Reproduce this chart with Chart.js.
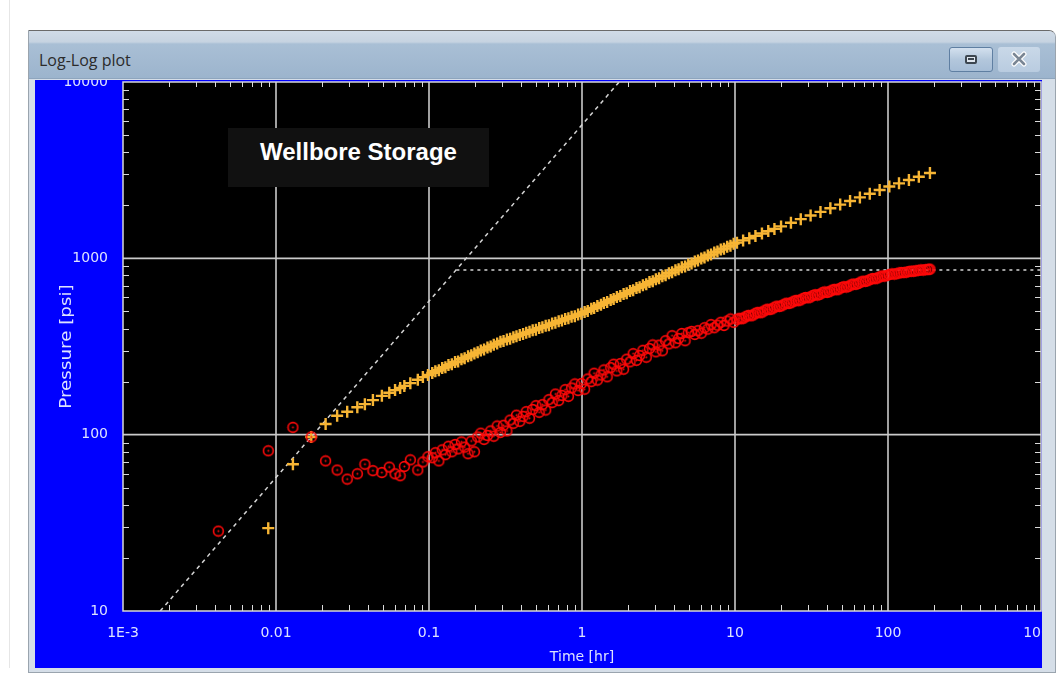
<!DOCTYPE html>
<html><head><meta charset="utf-8">
<script src="https://cdn.jsdelivr.net/npm/chart.js@4.4.1/dist/chart.umd.min.js"></script>
<style>
html,body{margin:0;padding:0;background:#fff;width:1061px;height:686px;overflow:hidden;position:relative;}
#edge{position:absolute;left:9px;top:0;width:1px;height:668px;background:#e6e6e6;}
#win{position:absolute;left:28px;top:30px;width:1028px;height:643px;box-sizing:border-box;background:#d5dee8;border:1px solid #9aa4ae;border-top-color:#6a6a6a;border-radius:0 7px 0 0;}
#titlebar{position:absolute;left:29px;top:31px;width:1026px;height:48px;box-sizing:border-box;background:linear-gradient(to bottom,#d0dbe7 0,#c6d3e1 11px,#a9bfd5 13px,#9cb4cd 100%);border-radius:0 6px 0 0;border-bottom:1px solid #8ea5bd;}
#wintitle{position:absolute;left:10px;top:19px;font:16px 'Open Sans',sans-serif;color:#2b2b2b;line-height:20px;white-space:nowrap;}
#btnRestore{position:absolute;left:920px;top:16px;width:44px;height:25px;box-sizing:border-box;border:1px solid #5f7fa2;border-radius:3px;background:linear-gradient(to bottom,#d3e0ee,#b3c7dc 50%,#a6bdd6);}
#btnRestore .ic{position:absolute;left:15px;top:7px;width:12px;height:9px;box-sizing:border-box;border:2px solid #3c4650;border-radius:2px;background:#dfe6ee;}
#btnRestore .ic:after{content:'';position:absolute;left:1px;top:1px;width:6px;height:2px;background:#3c4650;}
#btnClose{position:absolute;left:969px;top:16px;width:42px;height:25px;box-sizing:border-box;border-radius:3px;background:linear-gradient(to bottom,#c9d8e8,#b9cce0);}
#plotwrap{position:absolute;left:35px;top:80px;width:1007px;height:588px;overflow:hidden;background:#0000ff;}
#plotwrap canvas{position:absolute;left:0;top:-20px;}
#wbs{position:absolute;left:228px;top:128px;width:261px;height:59px;box-sizing:border-box;background:#111;color:#fff;font:bold 24px 'Liberation Sans',Arial,sans-serif;line-height:27px;padding-top:10px;text-align:center;white-space:nowrap;}
</style>
</head>
<body>
<div id="edge"></div>
<div id="win"></div>
<div id="titlebar"><span id="wintitle">Log-Log plot</span>
  <div id="btnRestore"><div class="ic"></div></div>
  <div id="btnClose"><svg width="42" height="25" viewBox="0 0 42 25"><path d="M16 7 L26 17 M26 7 L16 17" stroke="#ffffff" stroke-width="5" stroke-linecap="round"/><path d="M16 7 L26 17 M26 7 L16 17" stroke="#7a8694" stroke-width="2.6" stroke-linecap="round"/></svg></div>
</div>
<div id="plotwrap"><canvas id="c" width="1080" height="628" style="width:1080px;height:628px"></canvas></div>
<div id="wbs">Wellbore Storage</div>
<script>
// ---- data ----
const xTitle = 'Time [hr]';
const yTitle = 'Pressure [psi]';
const xTickValues = [0.001, 0.01, 0.1, 1, 10, 100, 1000];
const xTickLabels = ['1E-3', '0.01', '0.1', '1', '10', '100', '1000'];
const yTickValues = [10, 100, 1000, 10000];
const yTickLabels = ['10', '100', '1000', '10000'];

const sharedTime = [0.0042, 0.0089, 0.0129, 0.0170, 0.0211, 0.0251, 0.0292, 0.0340, 0.0381, 0.0430, 0.0492, 0.0550, 0.0600, 0.0648, 0.0690, 0.0755, 0.0845, 0.0912, 0.0985,
  0.105, 0.110, 0.116, 0.122, 0.128, 0.134, 0.141, 0.148, 0.155, 0.163,
  0.171, 0.180, 0.189, 0.198, 0.208, 0.218, 0.229, 0.241, 0.253, 0.265,
  0.279, 0.293, 0.307, 0.323, 0.339, 0.356, 0.373, 0.392, 0.412, 0.432,
  0.454, 0.476, 0.500, 0.525, 0.551, 0.579, 0.608, 0.638, 0.670, 0.704,
  0.739, 0.776, 0.815, 0.855, 0.898, 0.943, 0.990, 1.04, 1.09, 1.15,
  1.20, 1.26, 1.33, 1.39, 1.46, 1.54, 1.61, 1.69, 1.78, 1.87,
  1.96, 2.06, 2.16, 2.27, 2.38, 2.50, 2.63, 2.76, 2.90, 3.04,
  3.19, 3.35, 3.52, 3.70, 3.88, 4.08, 4.28, 4.49, 4.72, 4.95,
  5.20, 5.46, 5.73, 6.02, 6.32, 6.64, 6.97, 7.32, 7.68, 8.07,
  8.47, 8.89, 9.34, 9.80];

const deltaPShared = [null, 29.5, 68, 97, 115, 128, 135, 143, 149, 157, 166, 173, 179, 184, 189, 196, 205, 212, 218,
  224, 229, 232, 239, 241, 248, 251, 258, 260, 268,
  271, 278, 282, 289, 293, 300, 304, 312, 316, 324,
  329, 337, 340, 347, 350, 357, 361, 368, 372, 379,
  383, 391, 394, 402, 406, 414, 418, 427, 431, 440,
  444, 453, 458, 466, 470, 480, 485, 497, 503, 518,
  523, 537, 545, 558, 565, 580, 588, 603, 611, 628,
  634, 652, 660, 678, 686, 704, 713, 733, 742, 762,
  770, 792, 801, 823, 833, 856, 866, 889, 900, 924,
  936, 960, 972, 998, 1011, 1038, 1050, 1079, 1092, 1121,
  1135, 1165, 1180, 1211];
const deltaPLateTime = [10.3, 11.3, 12.4, 13.6, 15.0, 16.5, 18.1, 20.0, 23.2, 26.9, 31.2, 36.2, 42.0, 48.7, 56.5, 65.5, 76.0, 88.2, 102, 118, 137, 159, 188];
const deltaPLate = [1227, 1264, 1301, 1340, 1384, 1427, 1469, 1517, 1590, 1668, 1749, 1834, 1924, 2017, 2115, 2216, 2325, 2439, 2553, 2663, 2780, 2903, 3048];

const derivShared = [28.4, 81, 110, 97, 71, 63, 56, 60, 68, 62.5, 61, 65.5, 60, 58.5, 66, 72, 63, 70, 75,
  74, 79, 71, 82, 77, 86, 80, 88, 83, 91,
  85, 78, 92, 80, 97, 102, 94, 99, 105, 98,
  112, 103, 113, 105, 121, 116, 129, 119, 127, 135,
  124, 139, 146, 134, 148, 138, 158, 152, 170, 156,
  167, 180, 165, 184, 194, 178, 195, 181, 207, 200,
  223, 204, 218, 233, 213, 240, 251, 230, 253, 235,
  268, 259, 288, 264, 281, 301, 275, 308, 323, 295,
  322, 299, 341, 327, 364, 332, 351, 375, 341, 379,
  385, 370, 389, 376, 404, 397, 421, 404, 418, 434,
  416, 441, 453, 434];
const derivLateTime = [10.3, 10.65, 11.0, 11.4, 11.8, 12.25, 12.7, 13.15, 13.6, 14.1, 14.6, 15.15, 15.7, 16.3, 16.9, 17.5, 18.1, 18.8, 19.5, 20.2,
  20.9, 21.7, 22.5, 23.3, 24.2, 25.1, 26.0, 26.9, 27.9, 28.9, 30.0, 31.1, 32.2, 33.4, 34.6, 35.9, 37.2, 38.6, 40.0, 41.5,
  43.0, 44.6, 46.2, 47.9, 49.7, 51.5, 53.4, 55.4, 57.4, 59.5, 61.7, 64.0, 66.3, 68.8, 71.3, 73.9, 76.6, 79.4, 82.4, 85.4,
  88.5, 91.8, 95.2, 98.5, 102, 106, 110, 114, 118, 122, 127, 132, 137, 142, 147, 152, 158, 164, 170, 176, 182, 185, 188];
const derivLate = [451, 457, 454, 458, 469, 475, 472, 477, 488, 494, 491, 496, 508, 515, 512, 517, 528, 536, 533, 538,
  549, 557, 554, 560, 571, 578, 575, 581, 593, 600, 597, 603, 615, 622, 619, 625, 638, 645, 641, 647,
  660, 667, 663, 670, 683, 690, 687, 694, 708, 715, 712, 720, 734, 742, 740, 747, 760, 768, 766, 773,
  786, 794, 793, 799, 810, 816, 814, 818, 826, 831, 830, 835, 842, 846, 845, 849, 855, 859, 858, 862, 865, 867, 868];

// unit-slope wellbore storage line and radial-flow level line
const wbsLineTime = [0.00175, 1.75];
const wbsLinePressure = [10, 10000];
const radialLineTime = [0.151, 1000];
const radialLinePressure = [860, 860];

// ---- build datasets ----
function pts(ts, vs){ return ts.map((t,i)=>({x:t, y:vs[i]})).filter(p=>p.y!=null); }
const deltaPData = pts(sharedTime.concat(deltaPLateTime), deltaPShared.concat(deltaPLate));
const derivData = pts(sharedTime.concat(derivLateTime), derivShared.concat(derivLate));

const circleDot = document.createElement('canvas');
circleDot.width = 13; circleDot.height = 13;
(function(){const g=circleDot.getContext('2d'); g.strokeStyle='#ff0a0a'; g.lineWidth=1.6; g.beginPath(); g.arc(6.5,6.5,4.9,0,Math.PI*2); g.stroke(); g.fillStyle='#ff0a0a'; g.beginPath(); g.arc(6.5,6.5,1.0,0,Math.PI*2); g.fill();})();

const labelColor = '#dde2ff';
function labelFor(values, labels, v){ for(let i=0;i<values.length;i++){ if(Math.abs(v-values[i])/values[i]<1e-6) return labels[i]; } return ''; }

const framePlugin = {
  id:'framePlugin',
  beforeDraw(chart){
    const {ctx, chartArea:a} = chart;
    ctx.save();
    ctx.fillStyle='#0000ff'; ctx.fillRect(0,0,chart.width,chart.height);
    ctx.fillStyle='#000000'; ctx.fillRect(a.left,a.top,a.right-a.left,a.bottom-a.top);
    ctx.restore();
  },
  beforeDatasetsDraw(chart){
    const {ctx, chartArea:a, scales:{x:xs, y:ys}} = chart;
    ctx.save();
    ctx.strokeStyle='#cacaca'; ctx.lineWidth=1.6;
    xTickValues.forEach(v=>{const p=xs.getPixelForValue(v); if(p>a.left+2&&p<a.right-2){ctx.beginPath();ctx.moveTo(p,a.top);ctx.lineTo(p,a.bottom);ctx.stroke();}});
    yTickValues.forEach(v=>{const p=ys.getPixelForValue(v); if(p>a.top+2&&p<a.bottom-2){ctx.beginPath();ctx.moveTo(a.left,p);ctx.lineTo(a.right,p);ctx.stroke();}});
    ctx.restore();
  },
  afterDatasetsDraw(chart){
    const {ctx, chartArea:a, scales:{x:xs, y:ys}} = chart;
    ctx.save();
    ctx.strokeStyle='#dadada'; ctx.lineWidth=1;
    for(let d=-3; d<3; d++){ for(let m=2;m<10;m++){ const p=Math.round(xs.getPixelForValue(m*Math.pow(10,d)))+0.5;
      ctx.beginPath(); ctx.moveTo(p,a.bottom); ctx.lineTo(p,a.bottom-6); ctx.moveTo(p,a.top); ctx.lineTo(p,a.top+5); ctx.stroke(); } }
    for(let d=1; d<4; d++){ for(let m=2;m<10;m++){ const p=Math.round(ys.getPixelForValue(m*Math.pow(10,d)))+0.5;
      ctx.beginPath(); ctx.moveTo(a.left,p); ctx.lineTo(a.left+6,p); ctx.moveTo(a.right,p); ctx.lineTo(a.right-6,p); ctx.stroke(); } }
    ctx.strokeStyle='#d8d8d8'; ctx.lineWidth=1.5;
    ctx.strokeRect(a.left, a.top, a.right-a.left, a.bottom-a.top);
    ctx.restore();
  },
  afterDraw(chart){
    const {ctx, chartArea:a} = chart;
    ctx.save();
    ctx.translate(32, (a.top+a.bottom)/2);
    ctx.rotate(-Math.PI/2);
    ctx.scale(1.22,1.05);
    ctx.font = '15px "DejaVu Sans"';
    ctx.fillStyle = labelColor; ctx.textAlign='center'; ctx.textBaseline='middle';
    ctx.fillText(yTitle, 0, 0);
    ctx.restore();
  }
};

new Chart(document.getElementById('c'), {
  type:'scatter',
  data:{ datasets:[
    {label:'Unit slope', data:pts(wbsLineTime, wbsLinePressure), showLine:true, borderColor:'#d4d4d4', borderWidth:1.5, borderDash:[4,4], pointRadius:0, order:4},
    {label:'Radial flow', data:pts(radialLineTime, radialLinePressure), showLine:true, borderColor:'#d4d4d4', borderWidth:1.5, borderDash:[3,4], pointRadius:0, order:3},
    {label:'Pressure change', data:deltaPData, pointStyle:'cross', pointRadius:6, borderColor:'#f7b534', backgroundColor:'#f7b534', borderWidth:2.4, order:2},
    {label:'Derivative', data:derivData, pointStyle:circleDot, pointRadius:5, borderColor:'#ff0a0a', backgroundColor:'rgba(0,0,0,0)', order:1}
  ]},
  options:{
    responsive:false, animation:false, devicePixelRatio:1,
    layout:{padding:{left:0, top:22, right:74, bottom:0}},
    plugins:{legend:{display:false}, tooltip:{enabled:false}},
    scales:{
      x:{type:'logarithmic', min:0.001, max:1000, position:'bottom',
        grid:{display:false}, border:{display:false},
        ticks:{autoSkip:false, maxRotation:0, minRotation:0, padding:6, color:labelColor, font:{family:'DejaVu Sans', size:14},
          callback:(v)=>labelFor(xTickValues, xTickLabels, v)},
        title:{display:true, text:xTitle, color:labelColor, font:{family:'DejaVu Sans', size:14}, padding:{top:0, bottom:22}},
        afterFit:(s)=>{ s.height = 77; }
      },
      y:{type:'logarithmic', min:10, max:10000, position:'left',
        grid:{display:false}, border:{display:false},
        ticks:{autoSkip:false, padding:7, color:labelColor, font:{family:'DejaVu Sans', size:14},
          callback:(v)=>labelFor(yTickValues, yTickLabels, v)},
        title:{display:false},
        afterFit:(s)=>{ s.width = 88; }
      }
    }
  },
  plugins:[framePlugin]
});
</script>
</body></html>
